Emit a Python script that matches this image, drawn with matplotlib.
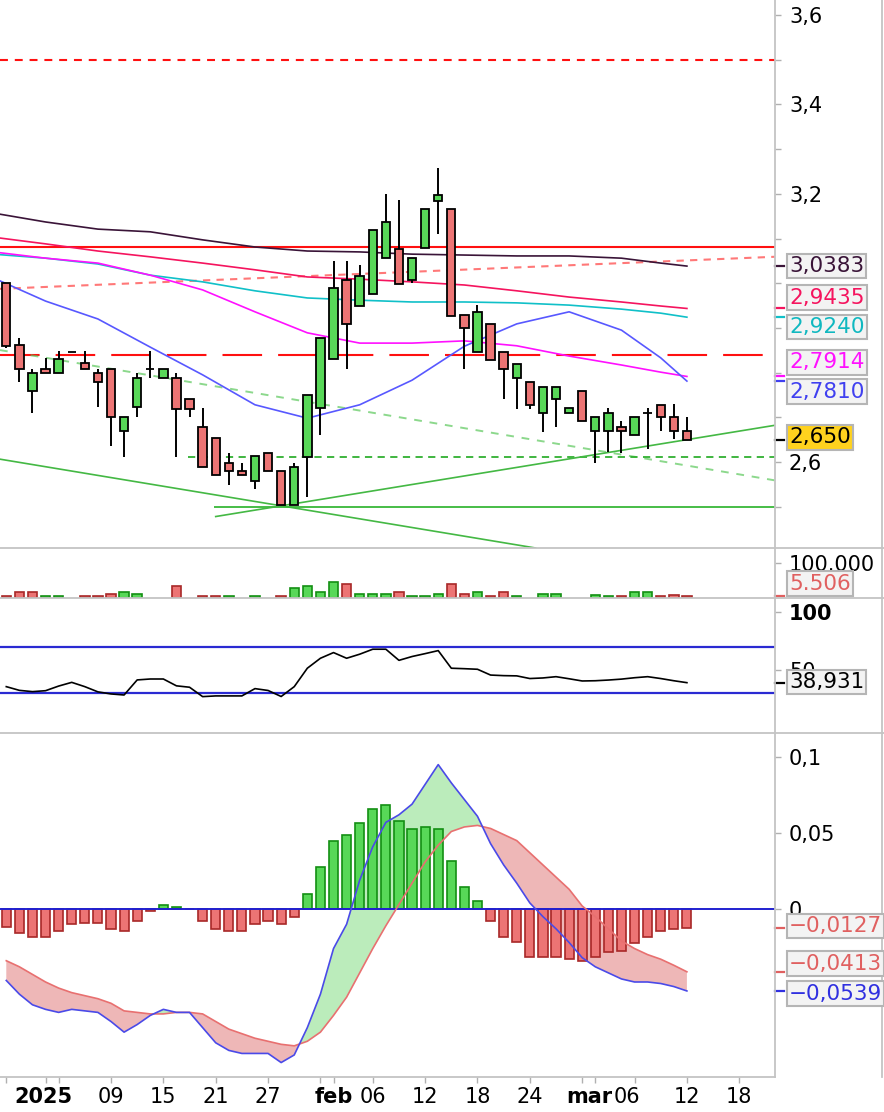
import numpy as np
import pandas as pd
import matplotlib
matplotlib.use("Agg")
import matplotlib.pyplot as plt
import matplotlib.transforms as mtrans
from matplotlib.lines import Line2D

plt.rcParams['font.family'] = ['DejaVu Sans']

# ---- DATA ----
# trading days on screen (1 Jan closed) + a few future sessions for the axis
dates = [d for d in pd.bdate_range("2024-12-27", "2025-03-12") if d != pd.Timestamp("2025-01-01")]
future_dates = list(pd.bdate_range("2025-03-13", "2025-03-21"))
all_days = dates + future_dates

opens = [3.0, 2.862, 2.758, 2.809, 2.798, 2.847, 2.822, 2.798, 2.809, 2.669,
         2.724, 2.809, 2.789, 2.789, 2.742, 2.678, 2.653, 2.598, 2.58, 2.558,
         2.62, 2.58, 2.504, 2.611, 2.72, 2.831, 3.007, 2.949, 2.976, 3.056,
         3.076, 3.007, 3.078, 3.184, 3.167, 2.929, 2.847, 2.909, 2.847, 2.789,
         2.78, 2.709, 2.74, 2.709, 2.758, 2.669, 2.669, 2.678, 2.66, 2.709,
         2.727, 2.70, 2.669]
highs = [3.0, 2.878, 2.809, 2.833, 2.849, 2.847, 2.849, 2.809, 2.809, 2.70,
         2.798, 2.849, 2.809, 2.80, 2.742, 2.72, 2.653, 2.62, 2.598, 2.613,
         2.62, 2.58, 2.598, 2.749, 2.878, 3.049, 3.049, 3.04, 3.118, 3.2,
         3.187, 3.056, 3.167, 3.258, 3.167, 2.929, 2.951, 2.909, 2.847, 2.82,
         2.78, 2.767, 2.767, 2.72, 2.758, 2.70, 2.72, 2.691, 2.70, 2.72,
         2.727, 2.729, 2.70]
lows = [2.855, 2.778, 2.709, 2.798, 2.798, 2.847, 2.807, 2.724, 2.636, 2.611,
        2.70, 2.787, 2.789, 2.611, 2.70, 2.589, 2.571, 2.549, 2.571, 2.54,
        2.58, 2.504, 2.504, 2.522, 2.66, 2.831, 2.807, 2.949, 2.976, 3.056,
        2.998, 3.0, 3.078, 3.109, 2.927, 2.807, 2.847, 2.829, 2.74, 2.718,
        2.718, 2.667, 2.678, 2.709, 2.691, 2.598, 2.622, 2.62, 2.66, 2.629,
        2.669, 2.651, 2.65]
closes = [2.86, 2.807, 2.798, 2.798, 2.831, 2.847, 2.807, 2.78, 2.70, 2.70,
          2.789, 2.809, 2.809, 2.718, 2.718, 2.589, 2.571, 2.58, 2.571, 2.613,
          2.58, 2.504, 2.589, 2.749, 2.878, 2.989, 2.909, 3.016, 3.118, 3.136,
          2.998, 3.056, 3.167, 3.198, 2.927, 2.90, 2.936, 2.829, 2.807, 2.82,
          2.727, 2.767, 2.767, 2.72, 2.691, 2.70, 2.709, 2.669, 2.70, 2.709,
          2.70, 2.669, 2.65]

volume = [5000, 16000, 16000, 5000, 5000, 0, 5000, 5000, 10500, 16000,
          10500, 0, 0, 33000, 0, 5000, 5000, 5000, 0, 5000,
          0, 5000, 28000, 33000, 16000, 45000, 39000, 10500, 10500, 10500,
          16000, 5000, 5000, 10500, 39000, 10500, 16000, 5000, 16000, 5000,
          0, 10500, 10500, 0, 0, 9000, 5000, 5000, 16000, 16000,
          5000, 9000, 5506]
vol_dir = list("rrrgg.rrrgg..r.rrg.g.rggggrgggrgggrrgrrg.gg..ggrggrrr")

rsi = [35.5, 32.3, 31.2, 32, 36, 39.2, 35.5, 31, 29.2, 28.3,
       41.3, 42.1, 42.1, 36.2, 35, 26.9, 27.5, 27.5, 27.5, 33.8,
       32.2, 27, 35.5, 51.4, 60, 64.9, 60, 63.5, 67.8, 67.8,
       58.2, 61.5, 64, 66.6, 51.4, 51, 50.5, 45.5, 45, 44.8,
       42.5, 43, 44.1, 42.3, 40.4, 40.6, 41.2, 42, 43.2, 44.1,
       42.5, 40.6, 38.931]

macd = [-0.047, -0.056, -0.063, -0.066, -0.068, -0.066, -0.067, -0.068, -0.074, -0.081,
        -0.076, -0.070, -0.066, -0.068, -0.068, -0.078, -0.088, -0.093, -0.095, -0.095,
        -0.095, -0.101, -0.096, -0.078, -0.056, -0.026, -0.010, 0.019, 0.041, 0.057,
        0.062, 0.069, 0.082, 0.095, 0.083, 0.072, 0.061, 0.043, 0.029, 0.017,
        0.004, -0.005, -0.013, -0.022, -0.032, -0.038, -0.042, -0.046, -0.048, -0.048,
        -0.049, -0.051, -0.0539]
signal = [-0.034, -0.038, -0.043, -0.048, -0.052, -0.055, -0.057, -0.059, -0.062, -0.067,
          -0.068, -0.069, -0.069, -0.068, -0.068, -0.069, -0.074, -0.079, -0.082, -0.085,
          -0.087, -0.089, -0.090, -0.087, -0.081, -0.070, -0.058, -0.042, -0.026, -0.011,
          0.003, 0.017, 0.031, 0.042, 0.051, 0.054, 0.055, 0.053, 0.049, 0.045,
          0.037, 0.029, 0.021, 0.013, 0.002, -0.005, -0.013, -0.021, -0.026, -0.030,
          -0.033, -0.037, -0.0413]
hist = [-0.0117, -0.0156, -0.0182, -0.0182, -0.0143, -0.0101, -0.0090, -0.0090, -0.0132, -0.0143,
        -0.0077, -0.0012, 0.0028, 0.0015, 0.0, -0.0077, -0.0132, -0.0143, -0.0143, -0.0101,
        -0.0077, -0.0101, -0.0051, 0.0096, 0.0278, 0.0449, 0.0489, 0.0568, 0.066, 0.0684,
        0.058, 0.0528, 0.0541, 0.0528, 0.0317, 0.0147, 0.0052, -0.0079, -0.0182, -0.022,
        -0.0314, -0.0314, -0.0314, -0.0329, -0.0342, -0.0314, -0.0285, -0.0275, -0.0222, -0.0182,
        -0.0143, -0.0132, -0.0127]

# moving averages, read at these session positions
ma_knots = [-1, 3, 7, 11, 15, 19, 23, 27, 31, 35, 39, 43, 47, 50, 52]
ma_dark = [3.157, 3.137, 3.121, 3.115, 3.097, 3.081, 3.072, 3.070, 3.065, 3.063, 3.061, 3.061, 3.056, 3.045, 3.0383]
ma_crimson = [3.103, 3.088, 3.072, 3.059, 3.045, 3.030, 3.014, 3.009, 3.003, 2.996, 2.983, 2.969, 2.958, 2.949, 2.9435]
ma_cyan = [3.065, 3.056, 3.043, 3.018, 3.003, 2.983, 2.967, 2.962, 2.958, 2.958, 2.956, 2.951, 2.942, 2.933, 2.924]
ma_magenta = [3.070, 3.056, 3.045, 3.018, 2.985, 2.936, 2.889, 2.866, 2.866, 2.871, 2.860, 2.837, 2.817, 2.801, 2.7914]
ma_blue = [3.012, 2.960, 2.920, 2.857, 2.795, 2.728, 2.698, 2.728, 2.783, 2.859, 2.909, 2.936, 2.895, 2.833, 2.781]

# drawn levels and trend lines (session position, price)
level_top = 3.5
level_res = 3.08
level_mid = 2.839
level_sup = 2.611
level_low = 2.5
trend_red = [(0, 2.988), (52, 3.051)]
trend_green_dash = [(0, 2.848), (52, 2.592)]
trend_down = [(0, 2.604), (21, 2.502)]
trend_up = [(16, 2.478), (52, 2.650)]

tick_dates = ["2024-12-27", "2025-01-02", "2025-01-03", "2025-01-09", "2025-01-15", "2025-01-21",
              "2025-01-27", "2025-01-31", "2025-02-03", "2025-02-06", "2025-02-12", "2025-02-18",
              "2025-02-24", "2025-02-28", "2025-03-03", "2025-03-06", "2025-03-12", "2025-03-18"]
tick_labels = ["", "2025", "", "09", "15", "21", "27", "", "feb", "06", "12", "18",
               "24", "", "mar", "06", "12", "18"]

# ---- LAYOUT ----
W, H = 884, 1112
AX_R = 775
XLIM = (-0.48, 58.73)
GREEN, GREEN_E = '#58d858', '#138f13'
RED, RED_E = '#ec7474', '#a82828'
GRID = '#c4c4c4'

fig = plt.figure(figsize=(W / 100, H / 100), dpi=100)
fig.patch.set_facecolor('white')


def panel(top, bottom):
    ax = fig.add_axes([0, 1 - bottom / H, AX_R / W, (bottom - top) / H])
    ax.set_xlim(*XLIM)
    for s in ax.spines.values():
        s.set_visible(False)
    ax.yaxis.tick_right()
    ax.tick_params(axis='y', which='both', color='#b0b0b0', labelsize=15,
                   length=4, width=1, pad=6)
    ax.set_xticks([])
    return ax


ax_p = panel(0, 548)
ax_v = panel(548, 598)
ax_r = panel(598, 733)
ax_m = panel(733, 1077)

x = np.arange(len(dates))

# ---- PRICE ----
ax_p.set_ylim(2.4076, 3.6336)
ax_p.set_yticks([2.6, 3.2, 3.4, 3.6])
ax_p.set_yticklabels(["2,6", "3,2", "3,4", "3,6"])
ax_p.set_yticks([2.5, 2.7, 2.8, 2.9, 3.0, 3.1, 3.3, 3.5], minor=True)

ax_p.axhline(level_top, color='#ff1010', lw=1.5, ls=(0, (3.8, 3.3)), zorder=2)
ax_p.axhline(level_res, color='#ff1010', lw=1.5, zorder=2)
ax_p.axhline(level_mid, color='#ff1010', lw=1.5, ls=(0, (19, 7.7)), zorder=2)
ax_p.axline(trend_red[0], trend_red[1], color='#ff3030', alpha=0.65, lw=1.5,
            ls=(0, (3.5, 3)), zorder=2)
ax_p.axline(trend_green_dash[0], trend_green_dash[1], color='#5cc85c', alpha=0.7, lw=1.4,
            ls=(0, (4, 4)), zorder=2)
ax_p.axline(trend_down[0], trend_down[1], color='#44b844', lw=1.2, zorder=2)
ax_p.hlines(level_sup, 13.9, XLIM[1], color='#30b030', lw=1.3, ls=(0, (4, 3)), zorder=2)
ax_p.hlines(level_low, 15.9, XLIM[1], color='#38b838', lw=1.3, zorder=2)
slope = (trend_up[1][1] - trend_up[0][1]) / (trend_up[1][0] - trend_up[0][0])
ax_p.plot([trend_up[0][0], XLIM[1]],
          [trend_up[0][1], trend_up[0][1] + slope * (XLIM[1] - trend_up[0][0])],
          color='#44b844', lw=1.2, zorder=2)

for vals, col in [(ma_dark, '#3a1438'), (ma_crimson, '#f5145e'), (ma_cyan, '#10c0c8'),
                  (ma_magenta, '#ff10ff'), (ma_blue, '#5858ff')]:
    ax_p.plot(ma_knots, vals, color=col, lw=1.2, zorder=3)

o, h, l, c = map(np.array, (opens, highs, lows, closes))
body_col = [GREEN if cc > oo else RED for oo, cc in zip(o, c)]
ax_p.vlines(x, l, h, color='black', lw=1.4, zorder=5)
ax_p.bar(x, np.abs(c - o), bottom=np.minimum(o, c), width=0.64, color=body_col,
         edgecolor='black', lw=1.3, zorder=6)

# ---- VOLUME ----
ax_v.set_ylim(0, 142500)
ax_v.set_yticks([100000])
ax_v.set_yticklabels(["100.000"])
vol = np.array(volume, dtype=float)
keep = vol > 0
ax_v.bar(x[keep], vol[keep], width=0.72,
         color=[GREEN if d == 'g' else RED for d, k in zip(vol_dir, keep) if k],
         edgecolor=[GREEN_E if d == 'g' else RED_E for d, k in zip(vol_dir, keep) if k],
         lw=1.2, zorder=3)

# ---- RSI ----
ax_r.set_ylim(-4.5, 112)
ax_r.set_yticks([50, 100])
ax_r.set_yticklabels(["50", "100"])
ax_r.get_yticklabels()[1].set_fontweight('bold')
ax_r.axhline(70, color='#2a2ad2', lw=1.6)
ax_r.axhline(30, color='#2a2ad2', lw=1.6)
ax_r.plot(x, rsi, color='black', lw=1.2, zorder=3)

# ---- MACD ----
ax_m.set_ylim(-0.1105, 0.1158)
ax_m.set_yticks([0, 0.05, 0.1])
ax_m.set_yticklabels(["0", "0,05", "0,1"])
m, s = np.array(macd), np.array(signal)
ax_m.fill_between(x, m, s, where=m >= s, interpolate=True, color='#8fe08f', alpha=0.6, lw=0, zorder=1)
ax_m.fill_between(x, m, s, where=m < s, interpolate=True, color='#e48888', alpha=0.6, lw=0, zorder=1)
hv = np.array(hist)
ax_m.bar(x, hv, width=0.7, color=[GREEN if v > 0 else RED for v in hv],
         edgecolor=[GREEN_E if v > 0 else RED_E for v in hv], lw=1.2, zorder=2)
ax_m.axhline(0, color='#2020d0', lw=1.4, zorder=3)
ax_m.plot(x, s, color='#e87070', lw=1.2, zorder=4)
ax_m.plot(x, m, color='#4a4ae8', lw=1.2, zorder=5)

# date axis
day_pos = {d.strftime("%Y-%m-%d"): i for i, d in enumerate(all_days)}
tpos = [day_pos[d] for d in tick_dates]
ax_m.set_xticks(tpos)
ax_m.tick_params(axis='x', length=4, color='#b0b0b0', width=1, labelbottom=False)
nudge = {1: -0.15, 14: -0.45, 15: -0.6}
lab_tr = mtrans.blended_transform_factory(ax_m.transData, ax_m.transAxes)
for i, (p, lab) in enumerate(zip(tpos, tick_labels)):
    if lab:
        ax_m.text(p + nudge.get(i, 0), -20 / 344, lab, transform=lab_tr, ha='center',
                  va='center', fontsize=15,
                  fontweight='bold' if not lab.isdigit() or len(lab) == 4 else 'normal')

# ---- frame lines ----
def fline(x0, x1, y0, y1):
    fig.add_artist(Line2D([x0 / W, x1 / W], [1 - y0 / H, 1 - y1 / H], color=GRID, lw=1.3))

for yy in (548, 598, 733):
    fline(0, W, yy, yy)
fline(0, AX_R, 1077, 1077)
fline(AX_R, AX_R, 0, 1077)
fline(882, 882, 0, 1077)

# ---- last-value markers and boxes ----
def marker(ax, val, col):
    tr = mtrans.blended_transform_factory(ax.transAxes, ax.transData)
    ax.plot([1.0, 1.011], [val, val], color=col, lw=1.6, transform=tr, clip_on=False, zorder=10)


def value_box(py, txt, col, fc='#f3f3f3'):
    fig.text(789 / W, 1 - py / H, txt, ha='left', va='center', fontsize=15.5, color=col,
             bbox=dict(boxstyle='square,pad=0.1', fc=fc, ec='#b5b5b5', lw=1.5))


for val, col in [(ma_dark[-1], '#3a1438'), (ma_crimson[-1], '#f5145e'), (ma_cyan[-1], '#10c0c8'),
                 (ma_magenta[-1], '#ff10ff'), (ma_blue[-1], '#4040f0'), (closes[-1], 'black')]:
    marker(ax_p, val, col)
marker(ax_v, volume[-1], '#e06060')
marker(ax_r, rsi[-1], 'black')
marker(ax_m, hist[-1], '#e06060')
marker(ax_m, signal[-1], '#e06060')
marker(ax_m, macd[-1], '#3030e0')

value_box(266, "3,0383", '#3a1438')
value_box(297.5, "2,9435", '#f5145e')
value_box(327, "2,9240", '#10b8c0')
value_box(362.5, "2,7914", '#ff10ff')
value_box(391.5, "2,7810", '#4040f0')
value_box(437.5, "2,650", 'black', fc='#ffd21e')
value_box(583.5, "5.506", '#e06060')
value_box(682, "38,931", 'black')
value_box(926, "\u22120,0127", '#e06060')
value_box(963.5, "\u22120,0413", '#e06060')
value_box(993.5, "\u22120,0539", '#3030e0')

fig.savefig("out.png", dpi=100, facecolor='white')
